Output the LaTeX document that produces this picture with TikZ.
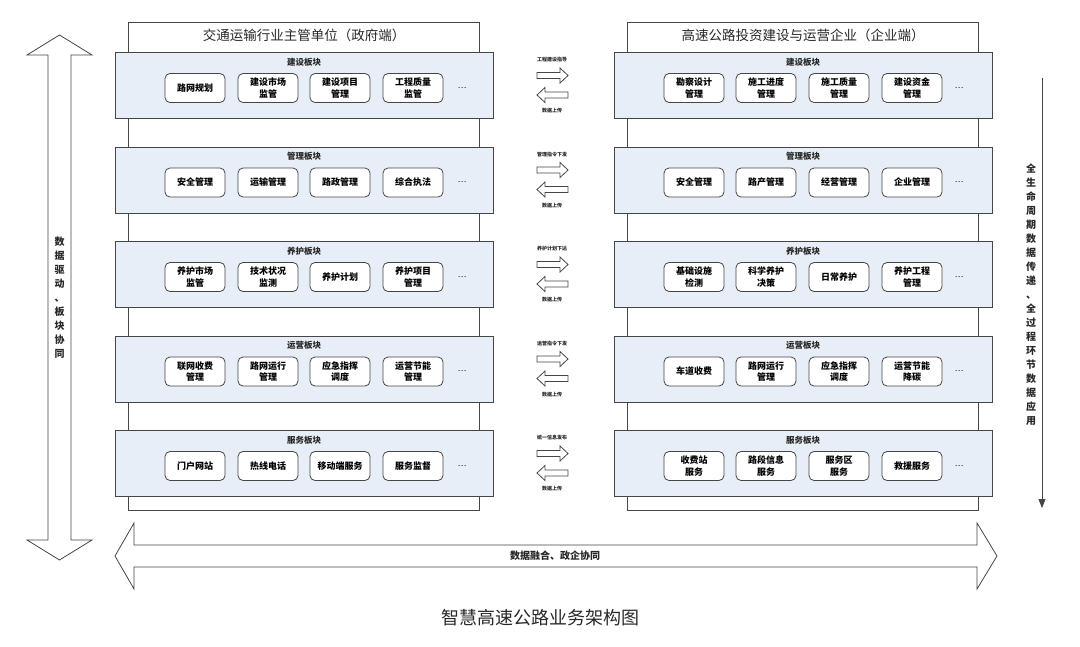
\documentclass[tikz,border=0pt]{standalone}
\usepackage{fontspec}
\setmainfont{Noto Sans CJK SC}
\usetikzlibrary{arrows.meta}

\definecolor{linegray}{RGB}{70,70,70}
\definecolor{panelblue}{RGB}{232,238,247}
\definecolor{textgray}{RGB}{40,40,40}

\begin{document}
\begin{tikzpicture}[
  x=1pt,
  y=-1pt,
  line width=0.8pt,
  back/.style={draw=linegray, fill=white, minimum width=351, minimum height=488, inner sep=0},
  panel/.style={draw=linegray, fill=panelblue, minimum width=378, minimum height=66, inner sep=0},
  item/.style={draw=linegray, fill=white, rounded corners=5, minimum width=60, minimum height=29,
    inner sep=0, align=center, font=\fontsize{9}{11.5}\selectfont\bfseries},
  paneltitle/.style={font=\fontsize{8.5}{10}\selectfont\bfseries, text=textgray},
  sidetitle/.style={font=\fontsize{13.5}{15}\selectfont, text=textgray},
  flowlabel/.style={font=\fontsize{5}{6}\selectfont\bfseries, text=textgray},
  vtext/.style={align=center, font=\fontsize{10}{14}\selectfont\bfseries, text=textgray},
  fatarrow/.style={draw=linegray, fill=white, line join=miter}
]

% White background
\fill[white] (0,0) rectangle (1080,646);
\useasboundingbox (0,0) rectangle (1080,646);

% Back panels and headers
\node[back, anchor=north] (govback) at (304,22) {};
\node[back, anchor=north] (entback) at (803,22) {};
\node[sidetitle] (govhead) at (304,35) {交通运输行业主管单位（政府端）};
\node[sidetitle] (enthead) at (803,35) {高速公路投资建设与运营企业（企业端）};

% Five rows of modules
\foreach \r/\ttl/\pa/\pb/\pc/\pd/\qa/\qb/\qc/\qd/\cmd in {
  {0/建设板块/路网规划/{建设市场\\监管}/{建设项目\\管理}/{工程质量\\监管}/{勘察设计\\管理}/{施工进度\\管理}/{施工质量\\管理}/{建设资金\\管理}/工程建设指导},
  {1/管理板块/安全管理/运输管理/路政管理/综合执法/安全管理/路产管理/经营管理/企业管理/管理指令下发},
  {2/养护板块/{养护市场\\监管}/{技术状况\\监测}/养护计划/{养护项目\\管理}/{基础设施\\检测}/{科学养护\\决策}/日常养护/{养护工程\\管理}/养护计划下达},
  {3/运营板块/{联网收费\\管理}/{路网运行\\管理}/{应急指挥\\调度}/{运营节能\\管理}/车道收费/{路网运行\\管理}/{应急指挥\\调度}/{运营节能\\降碳}/运营指令下发},
  {4/服务板块/门户网站/热线电话/移动端服务/服务监督/{收费站\\服务}/{路段信息\\服务}/{服务区\\服务}/救援服务/统一信息发布}} {
  \pgfmathsetmacro\ytop{52+94.5*\r}
  % government side
  \node[panel, anchor=north] (gov\r) at (304,\ytop) {};
  \node[paneltitle] (govttl\r) at (304,\ytop+10) {\ttl};
  \node[item] (gov\r-1) at (195,\ytop+36) {\pa};
  \node[item] (gov\r-2) at (268,\ytop+36) {\pb};
  \node[item] (gov\r-3) at (340,\ytop+36) {\pc};
  \node[item] (gov\r-4) at (413,\ytop+36) {\pd};
  \node[font=\fontsize{8}{8}\selectfont] (govdots\r) at (462,\ytop+36) {…};
  % enterprise side
  \node[panel, anchor=north] (ent\r) at (803,\ytop) {};
  \node[paneltitle] (entttl\r) at (803,\ytop+10) {\ttl};
  \node[item] (ent\r-1) at (694,\ytop+36) {\qa};
  \node[item] (ent\r-2) at (766,\ytop+36) {\qb};
  \node[item] (ent\r-3) at (839,\ytop+36) {\qc};
  \node[item] (ent\r-4) at (912,\ytop+36) {\qd};
  \node[font=\fontsize{8}{8}\selectfont] (entdots\r) at (959,\ytop+36) {…};
  % exchange arrows
  \pgfmathsetmacro\ya{\ytop+23.5}
  \pgfmathsetmacro\yb{\ytop+43}
  \node[flowlabel] (down\r) at (552,\ytop+8) {\cmd};
  \draw[fatarrow] (537,\ya-3) -- (560,\ya-3) -- (560,\ya-7.5) -- (568,\ya)
    -- (560,\ya+7.5) -- (560,\ya+3) -- (537,\ya+3) -- cycle;
  \draw[fatarrow] (568,\yb-3) -- (545,\yb-3) -- (545,\yb-7.5) -- (537,\yb)
    -- (545,\yb+7.5) -- (545,\yb+3) -- (568,\yb+3) -- cycle;
  \node[flowlabel] (up\r) at (552,\ytop+59) {数据上传};
}

% Left double arrow
\draw[fatarrow] (59.5,35) -- (92,55) -- (71,55) -- (71,540) -- (92,540) -- (59.5,560)
  -- (27,540) -- (48,540) -- (48,55) -- (27,55) -- cycle;
\node[vtext] (lefttext) at (59.5,298) {数\\据\\驱\\动\\、\\板\\块\\协\\同};

% Right data flow arrow
\coordinate (flowtop) at (1042,78);
\coordinate (flowend) at (1042,508);
\draw[linegray, -{Triangle[width=7,length=9]}] (flowtop) -- (flowend);
\node[vtext] (righttext) at (1031,295) {全\\生\\命\\周\\期\\数\\据\\传\\递\\、\\全\\过\\程\\环\\节\\数\\据\\应\\用};

% Bottom double arrow
\draw[fatarrow] (115,556) -- (134,523) -- (134,545) -- (977,545) -- (977,523) -- (997,556)
  -- (977,589) -- (977,567) -- (134,567) -- (134,589) -- cycle;
\node[font=\fontsize{10}{12}\selectfont\bfseries, text=textgray] (bottomtext) at (555,556) {数据融合、政企协同};

% Caption
\node[font=\fontsize{18}{20}\selectfont, text=textgray] (caption) at (540,618) {智慧高速公路业务架构图};

\end{tikzpicture}
\end{document}
